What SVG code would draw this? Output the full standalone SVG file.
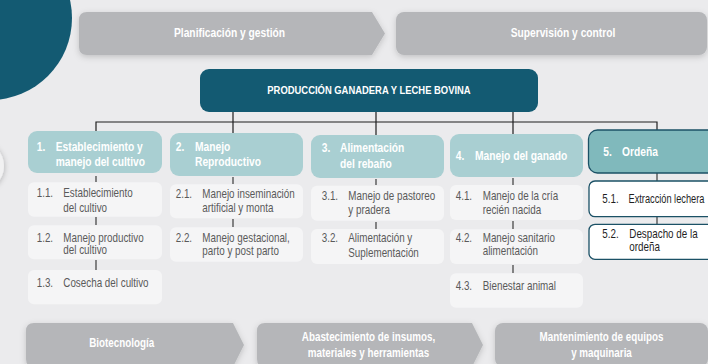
<svg xmlns="http://www.w3.org/2000/svg" width="708" height="364" viewBox="0 0 708 364">
<defs>
<filter id="sh" x="-10%" y="-30%" width="120%" height="170%"><feDropShadow dx="0" dy="2" stdDeviation="3" flood-color="#000" flood-opacity="0.18"/></filter>
<filter id="sh2" x="-50%" y="-50%" width="200%" height="200%"><feDropShadow dx="1" dy="1" stdDeviation="2.5" flood-color="#000" flood-opacity="0.2"/></filter>
</defs>
<style>
text{font-family:"Liberation Sans",Arial,sans-serif}
.bt{font-weight:bold;font-size:12.5px;fill:#fff;text-anchor:middle}
.bb{font-weight:bold;font-size:12px;fill:#fff;text-anchor:middle}
.mt{font-weight:bold;font-size:11.5px;fill:#fff;text-anchor:middle}
.hd{font-weight:bold;font-size:12.5px;fill:#fff}
.it{font-size:12px;fill:#5a5a5a}
.i5{font-size:12px;fill:#1f1f1f}
.bar{fill:#b5b6b9}
.hb{fill:#a9cfd2}
.h5{fill:#80b9bc;stroke:#1b5166;stroke-width:1.3}
.ib{fill:#f5f5f6}
.i5b{fill:#fff;stroke:#1b5166;stroke-width:1.3}
.cn{stroke:#1e1e1e;stroke-width:1.2;fill:none}
.tk{stroke:#4a4a4a;stroke-width:1.3;fill:none}
</style>
<rect width="708" height="364" fill="#ebebed"/>
<circle cx="-10" cy="18" r="82" fill="#135a72"/>
<circle cx="-21" cy="166" r="25" fill="#f1f1f2" filter="url(#sh2)"/>

<g id="top-planificacion">
<path class="bar" filter="url(#sh)" d="M87,12 H372 L385,33.5 L372,55 H87 Q79,55 79,47 V20 Q79,12 87,12 Z"/>
<text class="bt" transform="translate(229.5 37) scale(.82 1)">Planificación y gestión</text>
</g>
<g id="top-supervision">
<rect class="bar" filter="url(#sh)" x="396" y="12" width="311" height="43" rx="8"/>
<text class="bt" transform="translate(563 37) scale(.82 1)">Supervisión y control</text>
</g>

<g id="connectors">
<path class="cn" d="M96,131 V122 H657 V130 M233,112 V133 M376,112 V135 M513,112 V134"/>
<path class="tk" d="M96,176 V182 M96,217 V225 M96,260 V270 M233,177 V184 M233,219 V227 M376,179 V185 M376,222 V229 M513,178 V185 M513,221 V229 M513,265 V273 M657,173 V181 M657,217 V224"/>
</g>

<g id="main">
<rect x="200" y="69" width="338" height="43" rx="9" fill="#135a72"/>
<text class="mt" transform="translate(369 94) scale(.82 1)">PRODUCCIÓN GANADERA Y LECHE BOVINA</text>
</g>

<g id="h1">
<rect class="hb" x="28" y="131" width="134" height="42" rx="9"/>
<text class="hd" transform="translate(36.7 150.5) scale(.82 1)">1.</text>
<text class="hd" transform="translate(55.7 150.5) scale(.82 1)">Establecimiento y</text>
<text class="hd" transform="translate(55.7 165.7) scale(.82 1)">manejo del cultivo</text>
</g>
<g id="h2">
<rect class="hb" x="170" y="133" width="133" height="43" rx="9"/>
<text class="hd" transform="translate(175.7 150.5) scale(.82 1)">2.</text>
<text class="hd" transform="translate(195 150.5) scale(.82 1)">Manejo</text>
<text class="hd" transform="translate(195 165.7) scale(.82 1)">Reproductivo</text>
</g>
<g id="h3">
<rect class="hb" x="311" y="135" width="133" height="43" rx="9"/>
<text class="hd" transform="translate(321.7 152) scale(.82 1)">3.</text>
<text class="hd" transform="translate(340 152) scale(.82 1)">Alimentación</text>
<text class="hd" transform="translate(340 167.7) scale(.82 1)">del rebaño</text>
</g>
<g id="h4">
<rect class="hb" x="450" y="134" width="133" height="43" rx="9"/>
<text class="hd" transform="translate(455.7 160) scale(.82 1)">4.</text>
<text class="hd" transform="translate(475 160) scale(.82 1)">Manejo del ganado</text>
</g>
<g id="h5">
<rect class="h5" x="588.5" y="130" width="130" height="43" rx="9"/>
<text class="hd" transform="translate(603.3 156) scale(.82 1)">5.</text>
<text class="hd" transform="translate(622 156) scale(.82 1)">Ordeña</text>
</g>

<g id="i11">
<rect class="ib" x="28" y="182.3" width="134" height="34.4" rx="6"/>
<text class="it" transform="translate(36.7 197.3) scale(.82 1)">1.1.</text>
<text class="it" transform="translate(63.3 197.3) scale(.82 1)">Establecimiento</text>
<text class="it" transform="translate(63.3 212) scale(.82 1)">del cultivo</text>
</g>
<g id="i12">
<rect class="ib" x="28" y="225.3" width="134" height="34" rx="6"/>
<text class="it" transform="translate(36.7 241.5) scale(.82 1)">1.2.</text>
<text class="it" transform="translate(63.3 241.5) scale(.82 1)">Manejo productivo</text>
<text class="it" transform="translate(63.3 254) scale(.82 1)">del cultivo</text>
</g>
<g id="i13">
<rect class="ib" x="28" y="270" width="134" height="34.3" rx="6"/>
<text class="it" transform="translate(36.7 287) scale(.82 1)">1.3.</text>
<text class="it" transform="translate(63.3 287) scale(.82 1)">Cosecha del cultivo</text>
</g>
<g id="i21">
<rect class="ib" x="170" y="184.3" width="133" height="34" rx="6"/>
<text class="it" transform="translate(175.7 197.5) scale(.82 1)">2.1.</text>
<text class="it" transform="translate(202.3 197.5) scale(.82 1)">Manejo inseminación</text>
<text class="it" transform="translate(202.3 212) scale(.82 1)">artificial y monta</text>
</g>
<g id="i22">
<rect class="ib" x="170" y="227.3" width="133" height="34.4" rx="6"/>
<text class="it" transform="translate(175.7 241.7) scale(.82 1)">2.2.</text>
<text class="it" transform="translate(202.3 241.7) scale(.82 1)">Manejo gestacional,</text>
<text class="it" transform="translate(202.3 255) scale(.82 1)">parto y post parto</text>
</g>
<g id="i31">
<rect class="ib" x="311" y="185.7" width="133" height="35" rx="6"/>
<text class="it" transform="translate(321.7 200) scale(.82 1)">3.1.</text>
<text class="it" transform="translate(348.3 200) scale(.82 1)">Manejo de pastoreo</text>
<text class="it" transform="translate(348.3 213.5) scale(.82 1)">y pradera</text>
</g>
<g id="i32">
<rect class="ib" x="311" y="229" width="133" height="35" rx="6"/>
<text class="it" transform="translate(321.7 241.7) scale(.82 1)">3.2.</text>
<text class="it" transform="translate(348.3 241.7) scale(.82 1)">Alimentación y</text>
<text class="it" transform="translate(348.3 256.5) scale(.82 1)">Suplementación</text>
</g>
<g id="i41">
<rect class="ib" x="450" y="185" width="133" height="35" rx="6"/>
<text class="it" transform="translate(455.7 200) scale(.82 1)">4.1.</text>
<text class="it" transform="translate(482.7 200) scale(.82 1)">Manejo de la cría</text>
<text class="it" transform="translate(482.7 213.5) scale(.82 1)">recién nacida</text>
</g>
<g id="i42">
<rect class="ib" x="450" y="229.3" width="133" height="34.7" rx="6"/>
<text class="it" transform="translate(455.7 241.7) scale(.82 1)">4.2.</text>
<text class="it" transform="translate(482.7 241.7) scale(.82 1)">Manejo sanitario</text>
<text class="it" transform="translate(482.7 255) scale(.82 1)">alimentación</text>
</g>
<g id="i43">
<rect class="ib" x="450" y="273.3" width="133" height="34.4" rx="6"/>
<text class="it" transform="translate(455.7 290) scale(.82 1)">4.3.</text>
<text class="it" transform="translate(482.7 290) scale(.82 1)">Bienestar animal</text>
</g>
<g id="i51">
<rect class="i5b" x="589" y="181" width="130" height="35.7" rx="6"/>
<text class="i5" transform="translate(602.3 203.3) scale(.82 1)">5.1.</text>
<text class="i5" transform="translate(628.5 203.3) scale(.77 1)">Extracción lechera</text>
</g>
<g id="i52">
<rect class="i5b" x="589" y="224.3" width="130" height="35" rx="6"/>
<text class="i5" transform="translate(602.3 238.3) scale(.82 1)">5.2.</text>
<text class="i5" transform="translate(629.3 238.3) scale(.82 1)">Despacho de la</text>
<text class="i5" transform="translate(629.3 250.7) scale(.82 1)">ordeña</text>
</g>

<g id="bot-biotecnologia">
<path class="bar" filter="url(#sh)" d="M34,323 H233 L244,345 L233,367 H34 Q26,367 26,359 V331 Q26,323 34,323 Z"/>
<text class="bb" transform="translate(121.7 347) scale(.82 1)">Biotecnología</text>
</g>
<g id="bot-abastecimiento">
<path class="bar" filter="url(#sh)" d="M265,323 H472 L483,345 L472,367 H265 Q257,367 257,359 V331 Q257,323 265,323 Z"/>
<text class="bb" transform="translate(368.5 341) scale(.82 1)">Abastecimiento de insumos,</text>
<text class="bb" transform="translate(368.5 357) scale(.82 1)">materiales y herramientas</text>
</g>
<g id="bot-mantenimiento">
<rect class="bar" filter="url(#sh)" x="495" y="323" width="213" height="44" rx="8"/>
<text class="bb" transform="translate(601.5 341) scale(.82 1)">Mantenimiento de equipos</text>
<text class="bb" transform="translate(601.5 357) scale(.82 1)">y maquinaria</text>
</g>
</svg>
